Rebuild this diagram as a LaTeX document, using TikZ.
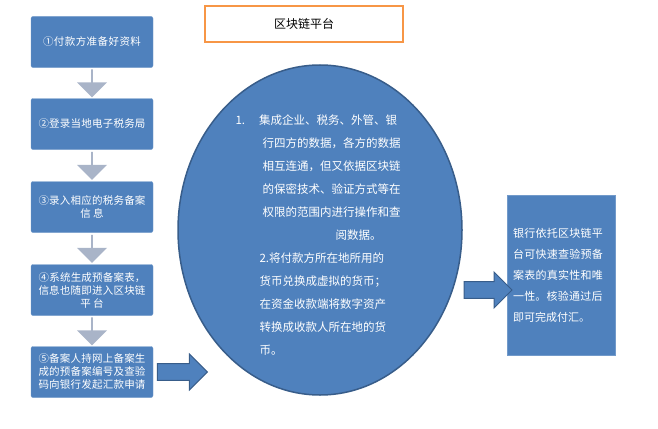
\documentclass[tikz,border=0pt]{standalone}
\usepackage{fontspec}
\setmainfont{Noto Sans CJK SC}
\XeTeXlinebreaklocale "zh"
\XeTeXlinebreakskip = 0pt plus 1pt
\usetikzlibrary{shapes.geometric, shapes.arrows, positioning, calc}
\definecolor{boxblue}{HTML}{4F81BD}
\definecolor{edgeblue}{HTML}{385D8A}
\definecolor{stepgray}{HTML}{A9B4C8}
\definecolor{titleorange}{HTML}{F79646}
\tikzset{
    stepbox/.style={draw=boxblue!80, fill=boxblue, rounded corners=2pt, text=white,
        minimum width=122pt, minimum height=51pt, text width=116pt, align=center,
        font=\fontsize{10.5}{13}\selectfont, inner sep=2pt}, % the five steps on the left
    downarrow/.style={single arrow, draw=none, fill=stepgray, shape border rotate=270,
        minimum width=30pt, single arrow head extend=3pt, minimum height=28pt, inner sep=0pt},
    bigarrow/.style={single arrow, draw=edgeblue, fill=boxblue, line width=1pt,
        minimum width=36pt, single arrow head extend=4pt, inner sep=3pt},
}
\begin{document}
\begin{tikzpicture}[x=1pt, y=-1pt]
\useasboundingbox (0,0) rectangle (658,428);
% title
\node[draw=titleorange, line width=1.5pt, minimum width=198pt, minimum height=36pt,
      font=\fontsize{12}{14}\selectfont] (title) at (304,24) {区块链平台};
% steps
\node[stepbox] (s1) at (92,42) {①付款方准备好资料};
\node[stepbox] (s2) at (92,124) {②登录当地电子税务局};
\node[stepbox] (s3) at (92,207) {③录入相应的税务备案\\信息};
\node[stepbox] (s4) at (92,290) {④系统生成预备案表，\\信息也随即进入区块链\\平台};
\node[stepbox] (s5) at (92,372) {⑤备案人持网上备案生\\成的预备案编号及查验\\码向银行发起汇款申请};
\foreach \a/\b in {s1/s2, s2/s3, s3/s4, s4/s5}
    \node[downarrow] (d\a) at ($(\a.south)!0.5!(\b.north)$) {};
% platform
\node[ellipse, draw=edgeblue, line width=1.5pt, fill=boxblue, minimum width=284pt,
      minimum height=330pt] (plat) at (320,230) {};
\node[text=white, align=left, font=\fontsize{11.5}{23}\selectfont] (ptext) at (318,235)
    {1.\hspace{14pt}集成企业、税务、外管、银\\
     \hspace{27pt}行四方的数据，各方的数据\\
     \hspace{27pt}相互连通，但又依据区块链\\
     \hspace{27pt}的保密技术、验证方式等在\\
     \hspace{27pt}权限的范围内进行操作和查\\
     \hspace{100pt}阅数据。\\
     \hspace{24pt}2.将付款方所在地所用的\\
     \hspace{24pt}货币兑换成虚拟的货币；\\
     \hspace{24pt}在资金收款端将数字资产\\
     \hspace{24pt}转换成收款人所在地的货\\
     \hspace{24pt}币。};
% bank
\node[draw=boxblue!80, fill=boxblue, text=white, minimum width=108pt, minimum height=160pt,
      text width=96pt, align=left, font=\fontsize{11}{21}\selectfont] (bank) at (561,275)
    {银行依托区块链平台可快速查验预备案表的真实性和唯一性。核验通过后即可完成付汇。};
% connectors
\node[bigarrow, minimum height=50pt] (arr1) at ($(s5.east)+(25,0)$) {};
\node[bigarrow, minimum height=48pt] (arr2) at ($(bank.west)+(-23,15)$) {};
\end{tikzpicture}
\end{document}
